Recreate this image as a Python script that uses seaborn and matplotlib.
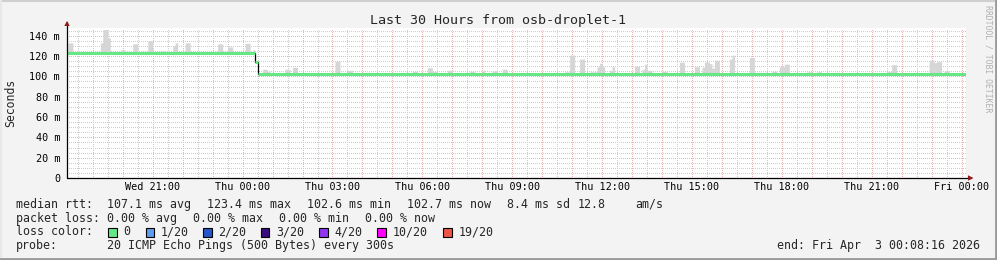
import numpy as np
import pandas as pd
import matplotlib
matplotlib.use("Agg")
import matplotlib.pyplot as plt
import matplotlib.dates as mdates
from matplotlib.patches import Rectangle, Polygon
from matplotlib.lines import Line2D
import seaborn as sns

# ---------------- data ----------------
DAYS = {"Wed": "2026-04-01", "Thu": "2026-04-02", "Fri": "2026-04-03"}
range_start = "Wed 18:08:16"
range_end = "Fri 00:08:16"

median_change_times = ["Wed 18:05", "Thu 00:25", "Thu 00:30"]
median_change_values = [123.4, 114.0, 102.7]

smoke_start = ["Wed 18:10", "Wed 19:15", "Wed 19:20", "Wed 19:30", "Wed 19:55", "Wed 20:20",
               "Wed 20:50", "Wed 21:15", "Wed 21:40", "Wed 21:45", "Wed 22:05", "Wed 23:10",
               "Wed 23:30", "Wed 23:40", "Thu 00:05", "Thu 00:20", "Thu 00:40", "Thu 00:50",
               "Thu 01:25", "Thu 01:40", "Thu 03:05", "Thu 03:30", "Thu 04:00", "Thu 05:40",
               "Thu 06:10", "Thu 06:20", "Thu 06:50", "Thu 07:15", "Thu 07:35", "Thu 08:00",
               "Thu 08:20", "Thu 08:40", "Thu 10:45", "Thu 10:55", "Thu 11:15", "Thu 11:35",
               "Thu 11:50", "Thu 11:55", "Thu 12:00", "Thu 12:15", "Thu 12:20", "Thu 13:05",
               "Thu 13:20", "Thu 13:25", "Thu 13:30", "Thu 14:00", "Thu 14:35", "Thu 15:05",
               "Thu 15:20", "Thu 15:25", "Thu 15:35", "Thu 15:40", "Thu 15:45", "Thu 16:15",
               "Thu 16:20", "Thu 16:55", "Thu 17:05", "Thu 17:40", "Thu 17:55", "Thu 18:05",
               "Thu 18:50", "Thu 19:10", "Thu 19:45", "Thu 20:20", "Thu 21:30", "Thu 21:40",
               "Thu 22:55", "Thu 23:05", "Thu 23:10", "Thu 23:25"]
smoke_end = ["Wed 18:20", "Wed 19:20", "Wed 19:30", "Wed 19:35", "Wed 20:05", "Wed 20:30",
             "Wed 21:00", "Wed 21:25", "Wed 21:45", "Wed 21:50", "Wed 22:15", "Wed 23:20",
             "Wed 23:40", "Thu 00:00", "Thu 00:15", "Thu 00:25", "Thu 00:50", "Thu 00:55",
             "Thu 01:35", "Thu 01:50", "Thu 03:15", "Thu 03:40", "Thu 04:20", "Thu 05:50",
             "Thu 06:20", "Thu 06:30", "Thu 07:00", "Thu 07:20", "Thu 07:45", "Thu 08:05",
             "Thu 08:30", "Thu 08:50", "Thu 10:55", "Thu 11:05", "Thu 11:25", "Thu 11:50",
             "Thu 11:55", "Thu 12:00", "Thu 12:05", "Thu 12:20", "Thu 12:25", "Thu 13:15",
             "Thu 13:25", "Thu 13:30", "Thu 13:40", "Thu 14:10", "Thu 14:45", "Thu 15:15",
             "Thu 15:25", "Thu 15:35", "Thu 15:40", "Thu 15:45", "Thu 15:55", "Thu 16:20",
             "Thu 16:25", "Thu 17:05", "Thu 17:30", "Thu 17:50", "Thu 18:05", "Thu 18:15",
             "Thu 19:00", "Thu 19:20", "Thu 19:55", "Thu 20:25", "Thu 21:40", "Thu 21:50",
             "Thu 23:05", "Thu 23:10", "Thu 23:20", "Thu 23:35"]
smoke_top = [133, 133, 146, 138, 126, 132,
             135, 125, 130, 133, 133, 132,
             129, 124.5, 132.5, 126, 107, 105,
             107, 109, 115, 106, 104, 105,
             108.5, 104.7, 106, 103.8, 105, 106,
             105.5, 107, 104.5, 121, 117, 104.5,
             109.5, 113, 109.5, 106, 109.5, 110,
             107, 112, 106, 105, 114, 109.5,
             109, 114, 112.5, 108, 116, 117,
             121, 118.5, 104, 105, 109.5, 112,
             104.5, 104.5, 104, 103.8, 104.7, 111.5,
             116, 113.5, 114.5, 105.5]

y_ticks = [0, 20, 40, 60, 80, 100, 120, 140]
y_tick_labels = ["0", "20 m", "40 m", "60 m", "80 m", "100 m", "120 m", "140 m"]
x_tick_times = ["Wed 21:00", "Thu 00:00", "Thu 03:00", "Thu 06:00", "Thu 09:00",
                "Thu 12:00", "Thu 15:00", "Thu 18:00", "Thu 21:00", "Fri 00:00"]
x_tick_labels = ["Wed 21:00", "Thu 00:00", "Thu 03:00", "Thu 06:00", "Thu 09:00",
                 "Thu 12:00", "Thu 15:00", "Thu 18:00", "Thu 21:00", "Fri 00:00"]

title = "Last 30 Hours from osb-droplet-1"
loss_labels = ["0", "1/20", "2/20", "3/20", "4/20", "10/20", "19/20"]
loss_colors = ["#66e684", "#5e9cf0", "#2456c8", "#3c0a80", "#8e38f0", "#ff00ff", "#ee5545"]


def ts(s):
    d, t = s.split(" ")
    return pd.Timestamp(DAYS[d] + " " + t)


def num(s):
    return mdates.date2num(ts(s))


# ---------------- derived series ----------------
grid_times = pd.date_range(ts("Wed 18:05"), ts("Fri 00:10"), freq="5min")
gx = mdates.date2num(grid_times)
chg = np.array([num(s) for s in median_change_times])
idx = np.searchsorted(chg, gx, side="right") - 1
median = np.array(median_change_values)[idx]
top = median.copy()
for s, e, v in zip(smoke_start, smoke_end, smoke_top):
    m = (gx >= num(s) - 1e-9) & (gx < num(e) - 1e-9)
    top[m] = np.maximum(top[m], v)
step = 5 / (24 * 60)

# runs of constant median (for the thick coloured line)
run_x0, run_x1, run_v = [], [], []
i = 0
while i < len(gx):
    j = i
    while j + 1 < len(gx) and median[j + 1] == median[i]:
        j += 1
    run_x0.append(gx[i])
    run_x1.append(gx[j] + step)
    run_v.append(median[i])
    i = j + 1

# ---------------- figure ----------------
sns.set_theme(style="white")
MONO = "DejaVu Sans Mono"
plt.rcParams["font.family"] = [MONO]

W, H = 997, 260
fig = plt.figure(figsize=(W / 100, H / 100), dpi=100, facecolor="#f3f3f3")

ax_l, ax_r, ax_b, ax_t = 67, 965.7, 178, 27.6
ax = fig.add_axes([ax_l / W, 1 - ax_b / H, (ax_r - ax_l) / W, (ax_b - ax_t) / H])
ax.set_facecolor("white")
x0, x1 = num(range_start), num(range_end)
ax.set_xlim(x0, x1)
ax.set_ylim(0, 148)

# grid
hours = pd.date_range(ts("Wed 19:00"), ts("Fri 00:00"), freq="1h")
halfs = pd.date_range(ts("Wed 18:30"), ts("Thu 23:30"), freq="1h")
ax.set_xticks(mdates.date2num(hours))
lab_map = {num(t): l for t, l in zip(x_tick_times, x_tick_labels)}
xl = []
for h in mdates.date2num(hours):
    lbl = ""
    for k, v in lab_map.items():
        if abs(k - h) < 1e-6:
            lbl = v
    xl.append(lbl)
ax.set_xticklabels(xl)
ax.set_xticks(mdates.date2num(halfs), minor=True)
ax.set_yticks(y_ticks)
ax.set_yticklabels(y_tick_labels)
ax.set_yticks([v for v in range(5, 148, 5) if v % 20 != 0], minor=True)
ax.grid(which="minor", color="#cdcdcd", lw=1.0, linestyle=(0, (0.72, 1.44)),
        antialiased=False)
ax.grid(which="major", color="#f0b2b2", lw=1.0, linestyle=(0, (0.72, 1.44)),
        antialiased=False)
ax.set_axisbelow(True)
ax.tick_params(which="both", length=0)
ax.tick_params(axis="x", pad=3.0, labelsize=7.3, labelcolor="black")
ax.tick_params(axis="y", pad=5.0, labelsize=7.3, labelcolor="black")
for sp in ax.spines.values():
    sp.set_visible(False)

# smoke
ax.fill_between(gx, median, top, step="post", color="#d6d6d6", lw=0, zorder=2)
# median: black step at the level change, then green horizontals on top
trans = (gx >= num("Thu 00:15")) & (gx <= num("Thu 00:40"))
sns.lineplot(x=gx[trans], y=median[trans], drawstyle="steps-post", color="black", lw=0.9,
             estimator=None, ax=ax)
for ln in ax.lines:
    ln.set_zorder(3)
ax.hlines(run_v, run_x0, run_x1, color=loss_colors[0], lw=2.2, zorder=4)
ax.set_xlabel("")
ax.set_ylabel("")

# axis lines with arrows
ax.plot([0, 0], [0, (ax_b - 22) / (ax_b - ax_t)], transform=ax.transAxes, color="black",
        lw=0.9, clip_on=False, zorder=6)
ax.plot([0, (971 - ax_l) / (ax_r - ax_l)], [0, 0], transform=ax.transAxes, color="black",
        lw=0.9, clip_on=False, zorder=6)


def fx(px):
    return px / W


def fy(py):
    return 1 - py / H


arrow_c = "#8f1a1a"
fig.add_artist(Polygon([(fx(64.3), fy(26)), (fx(69.7), fy(26)), (fx(67), fy(21))],
                       closed=True, transform=fig.transFigure, color=arrow_c, lw=0, zorder=7))
fig.add_artist(Polygon([(fx(968), fy(175.3)), (fx(968), fy(180.7)), (fx(973.5), fy(178))],
                       closed=True, transform=fig.transFigure, color=arrow_c, lw=0, zorder=7))

# texts
fig.text(fx(498), fy(24), title, ha="center", va="baseline", fontsize=9.6, family=MONO)
fig.text(fx(10.5), fy(103), "Seconds", rotation=90, ha="center", va="center",
         fontsize=8.3, family=MONO)
fig.text(fx(988), fy(59), "RRDTOOL / TOBI OETIKER", rotation=270, ha="center", va="center",
         fontsize=5.9, family=MONO, color="#b0b0b0")

fs = 8.4
rows = [207.8, 221.6, 235.4, 249.2]
fig.text(fx(16), fy(rows[0]), "median rtt:", fontsize=fs, family=MONO, va="baseline")
for x, t in [(107.3, "107.1 ms avg"), (207.3, "123.4 ms max"), (307.3, "102.6 ms min"),
             (407.3, "102.7 ms now"), (507.3, "8.4 ms sd"), (577.3, "12.8"), (635, "am/s")]:
    fig.text(fx(x), fy(rows[0]), t, fontsize=fs, family=MONO, va="baseline")
fig.text(fx(16), fy(rows[1]), "packet loss:", fontsize=fs, family=MONO, va="baseline")
for x, t in [(107.3, "0.00 % avg"), (193.3, "0.00 % max"), (279.3, "0.00 % min"),
             (365.3, "0.00 % now")]:
    fig.text(fx(x), fy(rows[1]), t, fontsize=fs, family=MONO, va="baseline")
fig.text(fx(16), fy(rows[2]), "loss color:", fontsize=fs, family=MONO, va="baseline")
box_x = [108.3, 145.7, 203.3, 261, 319.3, 377.3, 443.3]
for bx, lbl, c in zip(box_x, loss_labels, loss_colors):
    fig.add_artist(Rectangle((fx(bx), fy(236.7)), 8.4 / W, 8.4 / H, transform=fig.transFigure,
                             facecolor=c, edgecolor="black", lw=0.8))
    fig.text(fx(bx + 15), fy(rows[2]), lbl, fontsize=fs, family=MONO, va="baseline")
fig.text(fx(16), fy(rows[3]), "probe:", fontsize=fs, family=MONO, va="baseline")
fig.text(fx(107.3), fy(rows[3]), "20 ICMP Echo Pings (500 Bytes) every 300s", fontsize=fs,
         family=MONO, va="baseline")
fig.text(fx(980), fy(rows[3]), "end: Fri Apr  3 00:08:16 2026", fontsize=fs, family=MONO,
         va="baseline", ha="right")

# frame of the image
fig.add_artist(Line2D([0, 1], [fy(0.75), fy(0.75)], transform=fig.transFigure, color="#cfcfcf", lw=1.5))
fig.add_artist(Line2D([fx(0.75), fx(0.75)], [0, 1], transform=fig.transFigure, color="#e8e8e8", lw=1.5))
fig.add_artist(Line2D([0, 1], [fy(259.0), fy(259.0)], transform=fig.transFigure, color="#9a9a9a", lw=2.0))
fig.add_artist(Line2D([fx(996.0), fx(996.0)], [0, 1], transform=fig.transFigure, color="#9a9a9a", lw=2.0))

fig.savefig("out.png", dpi=100, facecolor=fig.get_facecolor())
